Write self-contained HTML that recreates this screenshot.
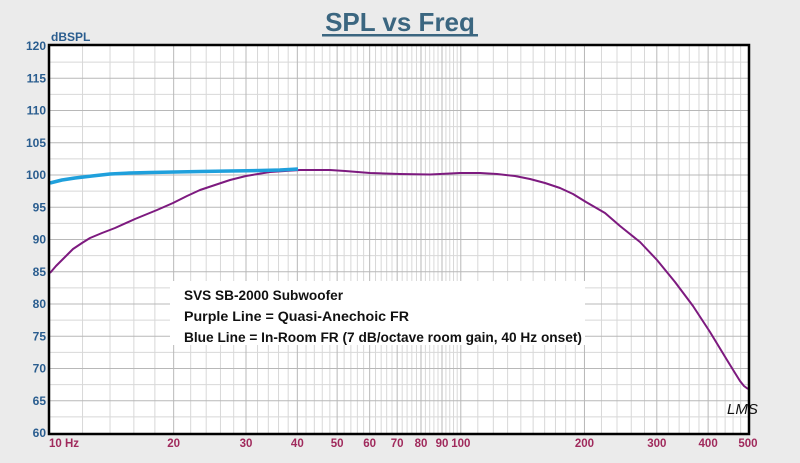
<!DOCTYPE html>
<html><head><meta charset="utf-8"><style>
html,body{margin:0;padding:0;background:#ebebeb;}
svg{display:block;}
text{font-family:"Liberation Sans",Arial,sans-serif;}
</style></head><body>
<svg id="s" width="800" height="463" xmlns="http://www.w3.org/2000/svg">
<rect width="800" height="463" fill="#ebebeb"/>
<text x="400" y="31" text-anchor="middle" font-size="26" font-weight="bold" fill="#3b6680">SPL vs Freq</text>
<rect x="322" y="34" width="156" height="2.5" fill="#3b6680"/>
<rect x="50" y="46" width="698" height="387" fill="#fff"/>
<g id="grid"></g>
<rect x="170" y="281" width="415" height="64" fill="#fff"/>
<text x="184" y="300" font-size="13.5" font-weight="bold" fill="#111" textLength="159" lengthAdjust="spacingAndGlyphs">SVS SB-2000 Subwoofer</text>
<text x="184" y="321" font-size="13.5" font-weight="bold" fill="#111" textLength="225" lengthAdjust="spacingAndGlyphs">Purple Line = Quasi-Anechoic FR</text>
<text x="184" y="342" font-size="13.5" font-weight="bold" fill="#111" textLength="398" lengthAdjust="spacingAndGlyphs">Blue Line = In-Room FR (7 dB/octave room gain, 40 Hz onset)</text>
<polyline fill="none" stroke="#7d1a7f" stroke-width="2" stroke-linejoin="round" points="50,273 56,266 62,260 68,254 73,249 82,243 90,238 102,233 115,228 135,219 157,210 173,203 187,196 200,190 215,185 230,180 246,176 270,172 300,170 330,170 345,171 370,173 400,174 430,174.5 460,173 480,173 497,174 515,176 530,179 545,183 560,188 573,194 586,202 605,213 620,226 640,242 657,260 675,282 693,306 710,332 727,360 735,373 740,381 744,386 748,389"/>
<polyline fill="none" stroke="#1fa0dc" stroke-width="3.5" stroke-linejoin="round" points="50,183 56,181.5 62,180 75,178 92,176 110,174 130,173 150,172.5 200,171.5 230,171 260,170.5 280,170 298,169"/>
<text x="727" y="414" font-size="15" font-style="italic" font-family="Liberation Serif" fill="#111">LMS</text>
<rect x="49" y="45" width="700" height="389" fill="none" stroke="#000" stroke-width="2.5"/>
<text x="51" y="41" font-size="12" font-weight="bold" fill="#2a5d8f">dBSPL</text>
<g id="lab"></g>
</svg>
<script>
const NS="http://www.w3.org/2000/svg";
const g=document.getElementById('grid'),lab=document.getElementById('lab');
const X=f=>50+Math.log10(f/10)*410.8, Y=d=>46+(120-d)*6.45;
function ln(x1,y1,x2,y2,c,w){const l=document.createElementNS(NS,'line');l.setAttribute('x1',x1);l.setAttribute('y1',y1);l.setAttribute('x2',x2);l.setAttribute('y2',y2);l.setAttribute('stroke',c);l.setAttribute('stroke-width',w);g.appendChild(l);}
function tx(x,y,s,c,a,fs){const t=document.createElementNS(NS,'text');t.setAttribute('x',x);t.setAttribute('y',y);t.setAttribute('font-size',fs);t.setAttribute('font-weight','bold');t.setAttribute('fill',c);t.setAttribute('text-anchor',a);t.textContent=s;lab.appendChild(t);}
let minor=[];
for(let f=12;f<20;f+=2)minor.push(f);
for(let f=22;f<100;f+=2)if(f%10)minor.push(f);
for(let f=110;f<200;f+=10)minor.push(f);
for(let f=220;f<500;f+=20)if(f%100)minor.push(f);
minor.forEach(f=>ln(X(f),46,X(f),433,'#d8d8d8',1));
for(let d=62.5;d<120;d+=5)ln(50,Y(d),748,Y(d),'#d8d8d8',1);
for(let d=65;d<120;d+=5)ln(50,Y(d),748,Y(d),'#b8b8b8',1);
[20,30,40,50,60,70,80,90,100,200,300,400].forEach(f=>ln(X(f),46,X(f),433,'#b8b8b8',1));
for(let d=60;d<=120;d+=5)tx(46,Y(d)+4,d,'#2a5d8f','end','12');
tx(49,447,'10  Hz','#a02a5c','start','11.5');
[20,30,40,50,60,70,80,90,100,200,300,400,500].forEach(f=>tx(X(f),447,f,'#a02a5c','middle','11.5'));
</script>
</body></html>
